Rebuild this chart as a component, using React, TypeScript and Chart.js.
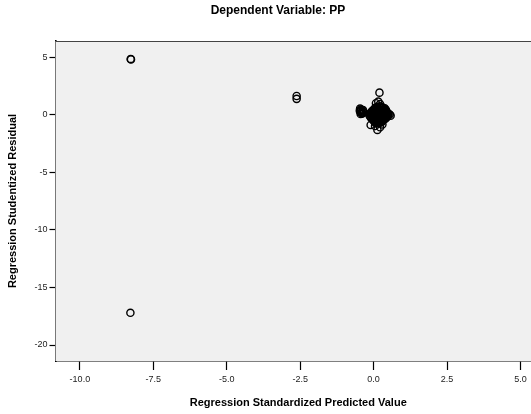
import { useEffect, useRef } from 'react'
import { Chart, registerables } from 'chart.js'
import type { Plugin } from 'chart.js'

Chart.register(...registerables)

const TITLE = 'Dependent Variable: PP'
const X_TITLE = 'Regression Standardized Predicted Value'
const Y_TITLE = 'Regression Studentized Residual'

const X_TICKS = [-10, -7.5, -5, -2.5, 0, 2.5, 5]
const Y_TICKS = [5, 0, -5, -10, -15, -20]

// standardized predicted value for each case
const PREDICTED = [
  -8.27, -8.26, -8.28, -2.62, -2.62,
  0.12, 0.22, 0.3,
  0.06, 0.14, 0.22, 0.3, 0.38,
  0.02, 0.1, 0.18, 0.26, 0.34, 0.42,
  -0.02, 0.06, 0.13, 0.2, 0.28, 0.35, 0.42,
  -0.06, 0.02, 0.09, 0.16, 0.24, 0.31, 0.38, 0.46,
  -0.09, -0.01, 0.07, 0.15, 0.23, 0.31, 0.39, 0.47,
  -0.12, -0.04, 0.05, 0.12, 0.2, 0.28, 0.35, 0.43, 0.51,
  -0.09, -0.01, 0.07, 0.15, 0.23, 0.31, 0.4, 0.48,
  -0.13, -0.05, 0.03, 0.11, 0.19, 0.27, 0.36, 0.44, 0.5,
  -0.1, -0.02, 0.06, 0.14, 0.22, 0.3, 0.38, 0.45,
  -0.07, 0.01, 0.09, 0.17, 0.25, 0.33, 0.41,
  -0.03, 0.05, 0.13, 0.21, 0.29, 0.37,
  0.0, 0.08, 0.16, 0.24, 0.32,
  0.04, 0.12, 0.2, 0.28,
  0.07, 0.15, 0.23,
  -0.46, -0.42, -0.45, -0.4, -0.37, -0.44, -0.34,
  -0.43, -0.41, -0.38, -0.47, -0.36,
  0.2, 0.16, 0.08, 0.22,
  -0.1, 0.05, 0.13, 0.22, 0.3,
  0.55, 0.58,
]

// studentized residual for each case (same order)
const RESIDUAL = [
  4.87, 4.83, -17.2, 1.65, 1.4,
  0.72, 0.75, 0.66,
  0.62, 0.6, 0.63, 0.61, 0.58,
  0.52, 0.55, 0.5, 0.54, 0.48, 0.44,
  0.4, 0.42, 0.38, 0.41, 0.39, 0.4, 0.36,
  0.32, 0.3, 0.34, 0.28, 0.31, 0.27, 0.3, 0.24,
  0.2, 0.22, 0.19, 0.21, 0.18, 0.2, 0.22, 0.17,
  0.12, 0.1, 0.14, 0.08, 0.12, 0.07, 0.11, 0.06, 0.1,
  0.0, 0.02, -0.01, 0.01, -0.02, 0.0, 0.02, -0.01,
  -0.08, -0.11, -0.07, -0.12, -0.09, -0.13, -0.08, -0.12, -0.05,
  -0.2, -0.19, -0.22, -0.2, -0.18, -0.21, -0.2, -0.19,
  -0.3, -0.28, -0.33, -0.29, -0.32, -0.27, -0.31,
  -0.4, -0.42, -0.39, -0.41, -0.4, -0.38,
  -0.5, -0.53, -0.48, -0.52, -0.47,
  -0.6, -0.62, -0.59, -0.61,
  -0.7, -0.73, -0.68,
  0.55, 0.42, 0.26, 0.16, 0.32, 0.08, 0.2,
  0.48, 0.22, 0.12, 0.36, 0.42,
  1.94, 1.16, 1.02, 0.94,
  -0.87, -0.96, -1.3, -1.07, -0.82,
  0.04, -0.06,
]

const FONT = '"Liberation Sans", Arial, sans-serif'

const frame: Plugin<'scatter'> = {
  id: 'frame',
  beforeDatasetsDraw(chart) {
    const { ctx, chartArea: a } = chart
    ctx.save()
    ctx.fillStyle = '#f0f0f0'
    ctx.fillRect(a.left, a.top, a.right - a.left, a.bottom - a.top)
    ctx.strokeStyle = '#444'
    ctx.lineWidth = 1.2
    ctx.beginPath()
    ctx.moveTo(a.left, a.top + 0.5)
    ctx.lineTo(a.right + 20, a.top + 0.5)
    ctx.stroke()
    ctx.restore()
  },
  afterDraw(chart) {
    const { ctx } = chart
    ctx.save()
    ctx.fillStyle = '#000'
    ctx.font = `bold 12px ${FONT}`
    ctx.textAlign = 'center'
    ctx.textBaseline = 'middle'
    ctx.fillText(TITLE, 278, 11)
    ctx.restore()
  },
}

export default function App() {
  const canvasRef = useRef<HTMLCanvasElement>(null)
  const chartRef = useRef<Chart | null>(null)

  useEffect(() => {
    chartRef.current?.destroy()
    chartRef.current = null
    if (!canvasRef.current) return

    const points = PREDICTED.map((x, i) => ({ x, y: RESIDUAL[i] }))

    chartRef.current = new Chart(canvasRef.current, {
      type: 'scatter',
      data: {
        datasets: [
          {
            data: points,
            pointStyle: 'circle',
            pointRadius: 3.6,
            pointBorderWidth: 1.4,
            pointBorderColor: '#000',
            pointBackgroundColor: 'rgba(0,0,0,0)',
          },
        ],
      },
      options: {
        animation: false,
        responsive: true,
        maintainAspectRatio: false,
        layout: { padding: { top: 41, right: 11, left: 0, bottom: 0 } },
        plugins: {
          legend: { display: false },
          tooltip: { enabled: false },
        },
        scales: {
          x: {
            type: 'linear',
            min: -10.83,
            max: 5.7,
            afterBuildTicks: (s) => {
              s.ticks = X_TICKS.map((value) => ({ value }))
            },
            afterFit: (s) => {
              s.height = 53
            },
            ticks: {
              color: '#222',
              font: { family: FONT, size: 9 },
              padding: 4,
              maxRotation: 0,
              callback: (v) => Number(v).toFixed(1),
            },
            grid: {
              display: true,
              drawOnChartArea: false,
              drawTicks: true,
              tickLength: 9,
              tickColor: '#000',
              tickWidth: 1.2,
            },
            border: { display: true, color: '#000', width: 1.6 },
            title: {
              display: true,
              text: X_TITLE,
              color: '#000',
              font: { family: FONT, size: 11, weight: 'bold' },
              padding: { top: 0, bottom: 4 },
            },
          },
          y: {
            type: 'linear',
            min: -21.39,
            max: 6.43,
            afterBuildTicks: (s) => {
              s.ticks = Y_TICKS.map((value) => ({ value }))
            },
            afterFit: (s) => {
              s.width = 55.5
            },
            ticks: {
              color: '#222',
              font: { family: FONT, size: 9 },
              padding: 2,
              callback: (v) => String(v),
            },
            grid: {
              display: true,
              drawOnChartArea: false,
              drawTicks: true,
              tickLength: 6,
              tickColor: '#000',
              tickWidth: 1.2,
            },
            border: { display: true, color: '#000', width: 1.6 },
            title: {
              display: true,
              text: Y_TITLE,
              color: '#000',
              font: { family: FONT, size: 11, weight: 'bold' },
              padding: { top: 6, bottom: 0 },
            },
          },
        },
      },
      plugins: [frame],
    })

    return () => {
      chartRef.current?.destroy()
      chartRef.current = null
    }
  }, [])

  return (
    <div style={{ position: 'fixed', left: 0, top: 0, width: 552, height: 414, background: '#fff' }}>
      <canvas ref={canvasRef} />
    </div>
  )
}
